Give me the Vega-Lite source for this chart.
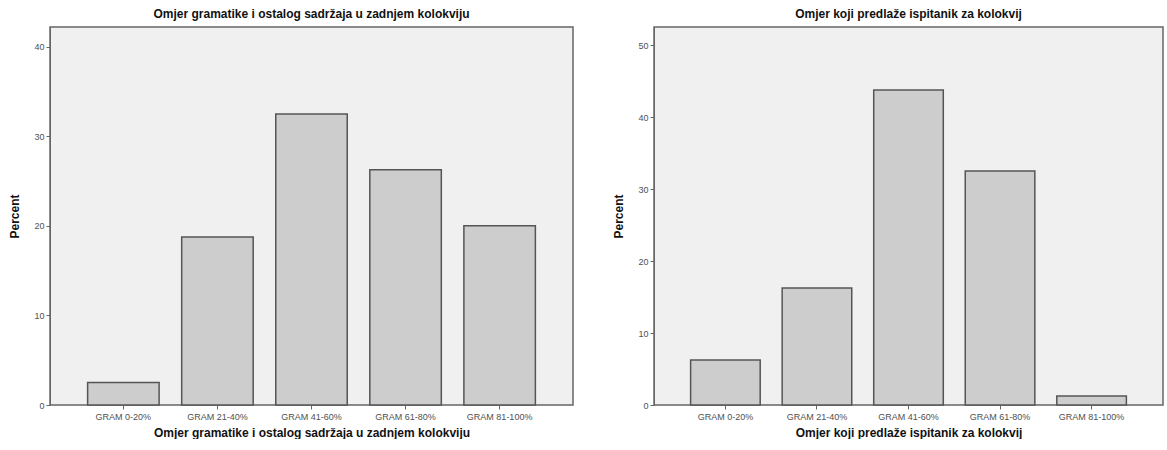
{
  "$schema": "https://vega.github.io/schema/vega-lite/v6.json",
  "padding": {"left": 8, "top": 7, "right": 0, "bottom": 0},
  "background": "white",
  "config": {
    "font": "Liberation Sans",
    "view": {"fill": "#f0f0f0", "stroke": "#666666", "strokeWidth": 1.5},
    "title": {"fontSize": 12, "fontWeight": "bold", "color": "#111111", "offset": 6},
    "axis": {
      "labelFont": "Liberation Sans",
      "labelFontSize": 9,
      "labelColor": "#505050",
      "titleFontSize": 12,
      "titleFontWeight": "bold",
      "titleColor": "#111111",
      "domainColor": "#666666",
      "tickColor": "#666666",
      "tickSize": 4,
      "grid": false
    },
    "concat": {"spacing": 38}
  },
  "datasets": {
    "left": [
      {"category": "GRAM 0-20%", "percent": 2.5},
      {"category": "GRAM 21-40%", "percent": 18.75},
      {"category": "GRAM 41-60%", "percent": 32.5},
      {"category": "GRAM 61-80%", "percent": 26.25},
      {"category": "GRAM 81-100%", "percent": 20}
    ],
    "right": [
      {"category": "GRAM 0-20%", "percent": 6.25},
      {"category": "GRAM 21-40%", "percent": 16.25},
      {"category": "GRAM 41-60%", "percent": 43.75},
      {"category": "GRAM 61-80%", "percent": 32.5},
      {"category": "GRAM 81-100%", "percent": 1.25}
    ]
  },
  "hconcat": [
    {
      "title": "Omjer gramatike i ostalog sadržaja u zadnjem kolokviju",
      "width": 523,
      "height": 378,
      "data": {"name": "left"},
      "mark": {"type": "bar", "fill": "#cdcdcd", "stroke": "#555555", "strokeWidth": 1.5},
      "encoding": {
        "x": {
          "field": "category", "type": "nominal", "sort": null,
          "scale": {"paddingInner": 0.24, "paddingOuter": 0.4},
          "axis": {"labelAngle": 0, "domain": false, "title": "Omjer gramatike i ostalog sadržaja u zadnjem kolokviju", "titlePadding": 6, "labelPadding": 3}
        },
        "y": {
          "field": "percent", "type": "quantitative",
          "scale": {"domain": [0, 42.2], "nice": false},
          "axis": {"values": [0, 10, 20, 30, 40], "title": "Percent", "titlePadding": 12, "labelPadding": 2}
        }
      }
    },
    {
      "title": "Omjer koji predlaže ispitanik za kolokvij",
      "width": 509,
      "height": 378,
      "data": {"name": "right"},
      "mark": {"type": "bar", "fill": "#cdcdcd", "stroke": "#555555", "strokeWidth": 1.5},
      "encoding": {
        "x": {
          "field": "category", "type": "nominal", "sort": null,
          "scale": {"paddingInner": 0.24, "paddingOuter": 0.4},
          "axis": {"labelAngle": 0, "domain": false, "title": "Omjer koji predlaže ispitanik za kolokvij", "titlePadding": 6, "labelPadding": 3}
        },
        "y": {
          "field": "percent", "type": "quantitative",
          "scale": {"domain": [0, 52.5], "nice": false},
          "axis": {"values": [0, 10, 20, 30, 40, 50], "title": "Percent", "titlePadding": 12, "labelPadding": 2}
        }
      }
    }
  ]
}
